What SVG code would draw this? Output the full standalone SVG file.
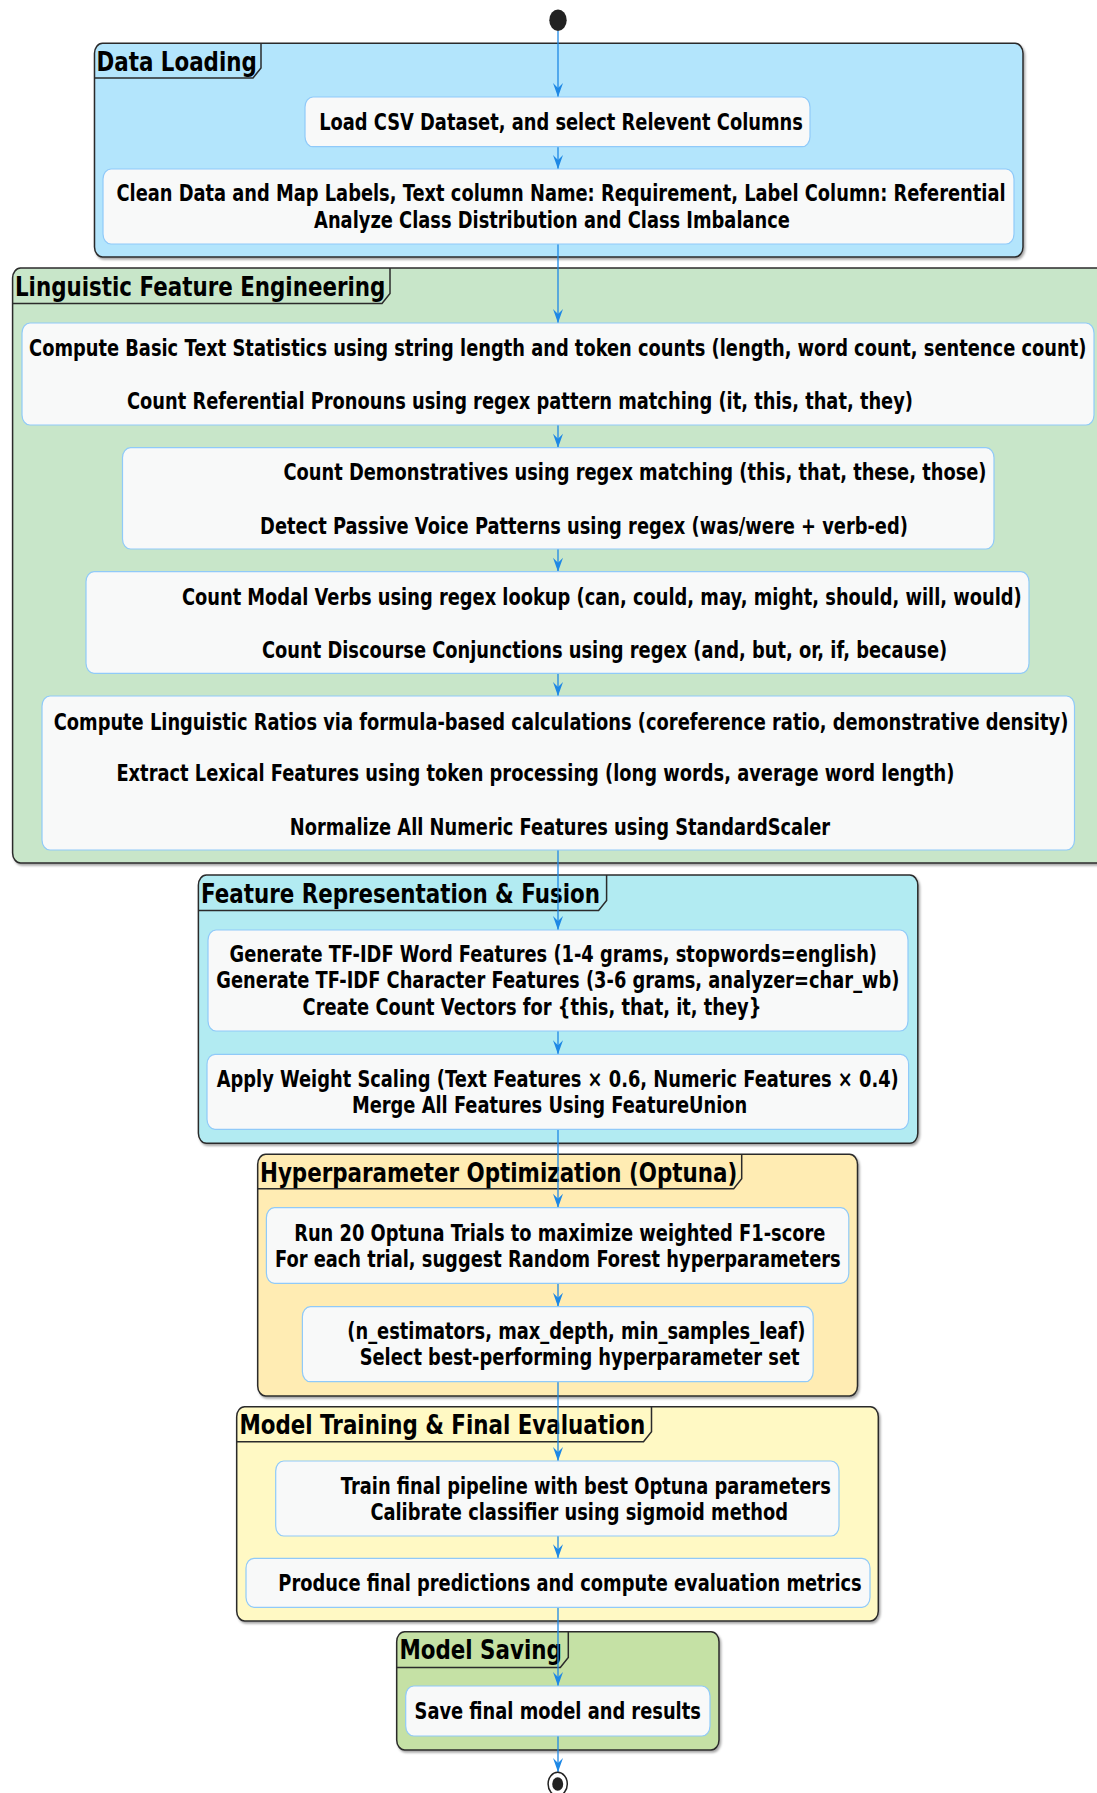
<svg xmlns="http://www.w3.org/2000/svg" width="1097" height="1793" viewBox="0 0 1097 1793">
  <defs>
    <filter id="sh" x="-5%" y="-5%" width="110%" height="110%">
      <feDropShadow dx="1.5" dy="2" stdDeviation="1.2" flood-color="#000" flood-opacity="0.35"/>
    </filter>
    <marker id="arr" markerUnits="userSpaceOnUse" orient="auto" refX="0" refY="0" markerWidth="20" markerHeight="20" overflow="visible">
      <path d="M0,0 L-14,-5 L-9,0 L-14,5 Z" fill="#1E88E5"/>
    </marker>
  </defs>
  <style>
    .frame { stroke: #2b2b2b; stroke-width: 1.5; filter: url(#sh); }
    .tab { fill: none; stroke: #2b2b2b; stroke-width: 1.5; }
    .title { font-family: "DejaVu Sans", sans-serif; font-weight: bold; font-size: 21.4px; fill: #000; }
    .box { fill: #F8F9F9; stroke: #90CAF9; stroke-width: 1.2; }
    .lbl { font-family: "DejaVu Sans", sans-serif; font-weight: bold; font-size: 17.85px; text-anchor: middle; fill: #000; }
    .title, .lbl { transform-box: fill-box; transform-origin: center; transform: scaleY(1.25); }
    .flow line { stroke: #1E88E5; stroke-width: 1.3; marker-end: url(#arr); }
  </style>

  <rect width="1097" height="1793" fill="#fff"/>

  <!-- partitions -->
  <g id="p-data-loading">
    <rect class="frame" x="94.5" y="43.3" width="928.5" height="213.7" rx="8" ry="10" fill="#B3E5FC"/>
    <path class="tab" d="M94.5,78 H253 L261,68 V43.3"/>
    <text class="title" x="96.5" y="69.3">Data Loading</text>
  </g>
  <g id="p-linguistic">
    <rect class="frame" x="12.6" y="268" width="1100" height="595" rx="8" ry="10" fill="#C8E6C9"/>
    <path class="tab" d="M12.6,303.5 H382 L390,293.5 V268"/>
    <text class="title" x="15" y="294">Linguistic Feature Engineering</text>
  </g>
  <g id="p-feature">
    <rect class="frame" x="198.4" y="875" width="719.4" height="268.3" rx="8" ry="10" fill="#B2EBF2"/>
    <path class="tab" d="M198.4,910.5 H598.6 L606.6,900.5 V875"/>
    <text class="title" x="201" y="901">Feature Representation &amp; Fusion</text>
  </g>
  <g id="p-hyper">
    <rect class="frame" x="257.7" y="1154.3" width="599.8" height="241.7" rx="8" ry="10" fill="#FFECB3"/>
    <path class="tab" d="M257.7,1188.8 H733.7 L741.7,1178.8 V1154.3"/>
    <text class="title" x="260" y="1180.3">Hyperparameter Optimization (Optuna)</text>
  </g>
  <g id="p-training">
    <rect class="frame" x="236.7" y="1406.7" width="641.6" height="214.3" rx="8" ry="10" fill="#FFF9C4"/>
    <path class="tab" d="M236.7,1441.7 H643.5 L651.5,1431.7 V1406.7"/>
    <text class="title" x="239.5" y="1432.7">Model Training &amp; Final Evaluation</text>
  </g>
  <g id="p-saving">
    <rect class="frame" x="396.7" y="1631.7" width="322.3" height="118.3" rx="8" ry="10" fill="#C5E1A5"/>
    <path class="tab" d="M396.7,1667.5 H560.3 L568.3,1657.5 V1631.7"/>
    <text class="title" x="399.5" y="1657.7">Model Saving</text>
  </g>

  <!-- control flow -->
  <g id="connectors" class="flow">
    <line x1="558" y1="31" x2="558" y2="97"/>
    <line x1="558" y1="146.7" x2="558" y2="169"/>
    <line x1="558" y1="244" x2="558" y2="323"/>
    <line x1="558" y1="425" x2="558" y2="447.7"/>
    <line x1="558" y1="549" x2="558" y2="571.7"/>
    <line x1="558" y1="673.3" x2="558" y2="696"/>
    <line x1="558" y1="850" x2="558" y2="930"/>
    <line x1="558" y1="1031" x2="558" y2="1054.3"/>
    <line x1="558" y1="1129.3" x2="558" y2="1207.7"/>
    <line x1="558" y1="1283.3" x2="558" y2="1306.7"/>
    <line x1="558" y1="1381.7" x2="558" y2="1461"/>
    <line x1="558" y1="1536" x2="558" y2="1558.3"/>
    <line x1="558" y1="1607.3" x2="558" y2="1686"/>
    <line x1="558" y1="1736" x2="558" y2="1772"/>
  </g>

  <!-- start / stop -->
  <g id="start">
    <ellipse cx="558" cy="20.2" rx="8.7" ry="10.8" fill="#222"/>
  </g>
  <g id="stop">
    <ellipse cx="557.7" cy="1784" rx="9.6" ry="11.8" fill="#fff" stroke="#222" stroke-width="1.5"/>
    <ellipse cx="557.7" cy="1784" rx="5.5" ry="6.8" fill="#222"/>
  </g>

  <!-- activities -->
  <g id="n-load">
    <rect class="box" x="305" y="97" width="505" height="49.7" rx="8" ry="10"/>
    <text class="lbl" x="561" y="128.2">Load CSV Dataset, and select Relevent Columns</text>
  </g>
  <g id="n-clean">
    <rect class="box" x="103" y="169" width="911" height="75" rx="8" ry="10"/>
    <text class="lbl" x="561" y="199.8">Clean Data and Map Labels, Text column Name: Requirement, Label Column: Referential</text>
    <text class="lbl" x="552" y="226.5">Analyze Class Distribution and Class Imbalance</text>
  </g>
  <g id="n-basic">
    <rect class="box" x="22" y="323" width="1072" height="102" rx="8" ry="10"/>
    <text class="lbl" x="557.7" y="354.8">Compute Basic Text Statistics using string length and token counts (length, word count, sentence count)</text>
    <text class="lbl" x="520" y="407.2">Count Referential Pronouns using regex pattern matching (it, this, that, they)</text>
  </g>
  <g id="n-demonstratives">
    <rect class="box" x="122.5" y="447.7" width="871.5" height="101.3" rx="8" ry="10"/>
    <text class="lbl" x="635" y="478.8">Count Demonstratives using regex matching (this, that, these, those)</text>
    <text class="lbl" x="584" y="532.2">Detect Passive Voice Patterns using regex (was/were + verb-ed)</text>
  </g>
  <g id="n-modal">
    <rect class="box" x="86" y="571.7" width="943" height="101.6" rx="8" ry="10"/>
    <text class="lbl" x="601.8" y="603.2">Count Modal Verbs using regex lookup (can, could, may, might, should, will, would)</text>
    <text class="lbl" x="604.6" y="656.5">Count Discourse Conjunctions using regex (and, but, or, if, because)</text>
  </g>
  <g id="n-ratios">
    <rect class="box" x="42" y="696" width="1032.5" height="154" rx="8" ry="10"/>
    <text class="lbl" x="561" y="728.2">Compute Linguistic Ratios via formula-based calculations (coreference ratio, demonstrative density)</text>
    <text class="lbl" x="535.4" y="779.8">Extract Lexical Features using token processing (long words, average word length)</text>
    <text class="lbl" x="560" y="833.2">Normalize All Numeric Features using StandardScaler</text>
  </g>
  <g id="n-tfidf">
    <rect class="box" x="208" y="930" width="700" height="101" rx="8" ry="10"/>
    <text class="lbl" x="553.3" y="960.8">Generate TF-IDF Word Features (1-4 grams, stopwords=english)</text>
    <text class="lbl" x="557.9" y="986.5">Generate TF-IDF Character Features (3-6 grams, analyzer=char_wb)</text>
    <text class="lbl" x="532" y="1013.2">Create Count Vectors for {this, that, it, they}</text>
  </g>
  <g id="n-weights">
    <rect class="box" x="207" y="1054.3" width="701.6" height="75" rx="8" ry="10"/>
    <text class="lbl" x="557.7" y="1085.5">Apply Weight Scaling (Text Features × 0.6, Numeric Features × 0.4)</text>
    <text class="lbl" x="549.6" y="1111.5">Merge All Features Using FeatureUnion</text>
  </g>
  <g id="n-trials">
    <rect class="box" x="266.4" y="1207.7" width="582.4" height="75.6" rx="8" ry="10"/>
    <text class="lbl" x="559.8" y="1239.8">Run 20 Optuna Trials to maximize weighted F1-score</text>
    <text class="lbl" x="557.8" y="1265.5">For each trial, suggest Random Forest hyperparameters</text>
  </g>
  <g id="n-select">
    <rect class="box" x="302.4" y="1306.7" width="510.8" height="75" rx="8" ry="10"/>
    <text class="lbl" x="576.3" y="1337.5">(n_estimators, max_depth, min_samples_leaf)</text>
    <text class="lbl" x="579.6" y="1363.2">Select best-performing hyperparameter set</text>
  </g>
  <g id="n-train">
    <rect class="box" x="275.7" y="1461" width="563.3" height="75" rx="8" ry="10"/>
    <text class="lbl" x="585.8" y="1492.2">Train final pipeline with best Optuna parameters</text>
    <text class="lbl" x="579.2" y="1518.2">Calibrate classifier using sigmoid method</text>
  </g>
  <g id="n-evaluate">
    <rect class="box" x="246" y="1558.3" width="624" height="49" rx="8" ry="10"/>
    <text class="lbl" x="570" y="1589.8">Produce final predictions and compute evaluation metrics</text>
  </g>
  <g id="n-save">
    <rect class="box" x="405.7" y="1686" width="304.3" height="50" rx="8" ry="10"/>
    <text class="lbl" x="557.7" y="1717.2">Save final model and results</text>
  </g>
</svg>
